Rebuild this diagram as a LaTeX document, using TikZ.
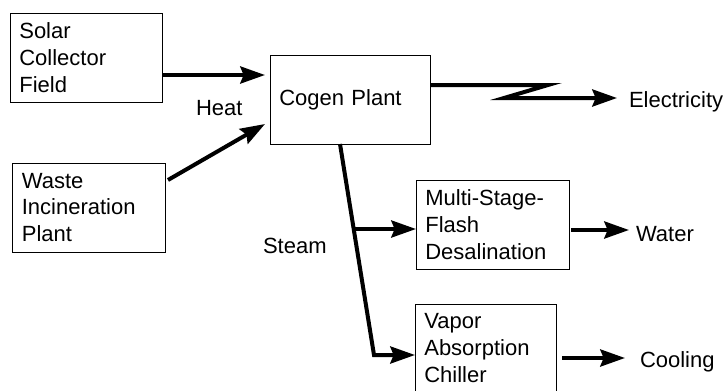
\documentclass[tikz,border=0pt]{standalone}
\usepackage{fontspec}
\setmainfont{Liberation Sans}
\usetikzlibrary{arrows.meta}
\begin{document}
\begin{tikzpicture}[x=0.75pt,y=-0.75pt,
  font=\fontsize{16.5}{20}\selectfont,
  box/.style={draw, line width=0.75pt, rectangle, align=left, inner xsep=7pt, inner ysep=0pt, outer sep=0pt, minimum height=66.75pt, anchor=center},
  lbl/.style={anchor=base west, inner sep=0pt, outer sep=0pt},
  flow/.style={line width=3pt, line join=miter, -{Stealth[length=18.5pt,width=12.75pt,inset=2.5pt]}}]
\useasboundingbox (0,0) rectangle (724,390);
\node[box, text width=100pt] (solar) at (86,57.5) {Solar\\Collector\\Field};
\node[box, text width=101.1pt] (waste) at (89.25,207.5) {Waste\\Incineration\\Plant};
\node[box, text width=106pt] (cogen) at (350,99.5) {Cogen Plant};
\node[box, text width=100.75pt] (msf) at (492.5,224.5) {Multi-Stage-\\Flash\\Desalination};
\node[box, text width=91.75pt, minimum height=66pt] (chiller) at (485.5,348) {Vapor\\Absorption\\Chiller};
\node[lbl] (heat) at (196,115) {Heat};
\node[lbl] (steam) at (263,253) {Steam};
\node[lbl] (elec) at (629,107) {Electricity};
\node[lbl] (water) at (636,241) {Water};
\node[lbl] (cool) at (640,367) {Cooling};
\draw[flow] (solar.east |- 0,75) -- ([xshift=-3.75pt]cogen.west |- 0,75);
\draw[flow] ([xshift=1.5pt]waste.east |- 0,180) -- ([xshift=-3.75pt]cogen.west |- 0,124);
\coordinate (z1) at (548,85);
\coordinate (z2) at (504,98);
\draw[flow] (cogen.east |- z1) -- (z1) -- (z2) -- ([xshift=-9pt]elec.west |- z2);
\coordinate (s0) at ([xshift=-7.5pt]cogen.south);
\coordinate (s1) at (374,355);
\coordinate (br) at (354,229);
\draw[flow] (s0) -- (s1) -- (chiller.west |- s1);
\draw[flow] (br) -- (msf.west |- br);
\draw[flow] ([xshift=1.5pt]msf.east |- 0,230) -- ([xshift=-5.25pt]water.west |- 0,230);
\draw[flow] ([xshift=4.5pt]chiller.east |- 0,358) -- ([xshift=-11.25pt]cool.west |- 0,358);
\end{tikzpicture}
\end{document}
